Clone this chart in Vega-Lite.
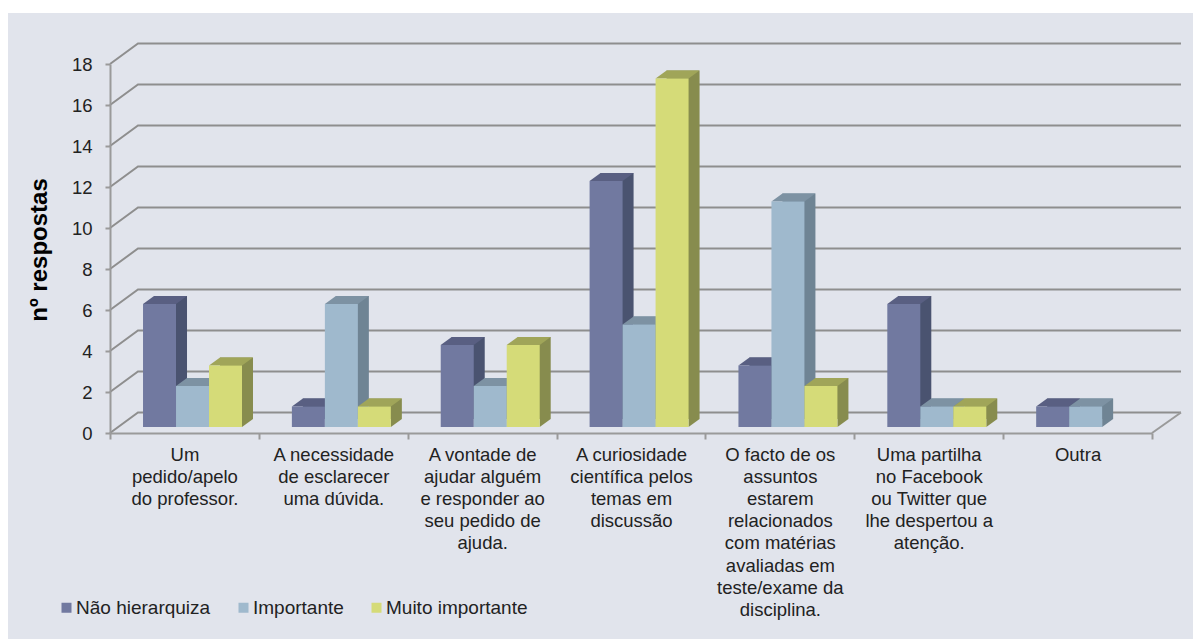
{"$schema":"https://vega.github.io/schema/vega-lite/v6.json","width":1042,"height":369,"autosize":{"type":"none"},"padding":{"left":110,"top":64,"right":41,"bottom":206},"background":"white","config":{"view":{"stroke":null},"font":"Liberation Sans"},"datasets":{"barras":[{"categoria":"Um\npedido/apelo\ndo professor.","serie":"Não hierarquiza","respostas":6},{"categoria":"Um\npedido/apelo\ndo professor.","serie":"Importante","respostas":2},{"categoria":"Um\npedido/apelo\ndo professor.","serie":"Muito importante","respostas":3},{"categoria":"A necessidade\nde esclarecer\numa dúvida.","serie":"Não hierarquiza","respostas":1},{"categoria":"A necessidade\nde esclarecer\numa dúvida.","serie":"Importante","respostas":6},{"categoria":"A necessidade\nde esclarecer\numa dúvida.","serie":"Muito importante","respostas":1},{"categoria":"A vontade de\najudar alguém\ne responder ao\nseu pedido de\najuda.","serie":"Não hierarquiza","respostas":4},{"categoria":"A vontade de\najudar alguém\ne responder ao\nseu pedido de\najuda.","serie":"Importante","respostas":2},{"categoria":"A vontade de\najudar alguém\ne responder ao\nseu pedido de\najuda.","serie":"Muito importante","respostas":4},{"categoria":"A curiosidade\ncientífica pelos\ntemas em\ndiscussão","serie":"Não hierarquiza","respostas":12},{"categoria":"A curiosidade\ncientífica pelos\ntemas em\ndiscussão","serie":"Importante","respostas":5},{"categoria":"A curiosidade\ncientífica pelos\ntemas em\ndiscussão","serie":"Muito importante","respostas":17},{"categoria":"O facto de os\nassuntos\nestarem\nrelacionados\ncom matérias\navaliadas em\nteste/exame da\ndisciplina.","serie":"Não hierarquiza","respostas":3},{"categoria":"O facto de os\nassuntos\nestarem\nrelacionados\ncom matérias\navaliadas em\nteste/exame da\ndisciplina.","serie":"Importante","respostas":11},{"categoria":"O facto de os\nassuntos\nestarem\nrelacionados\ncom matérias\navaliadas em\nteste/exame da\ndisciplina.","serie":"Muito importante","respostas":2},{"categoria":"Uma partilha\nno Facebook\nou Twitter que\nlhe despertou a\natenção.","serie":"Não hierarquiza","respostas":6},{"categoria":"Uma partilha\nno Facebook\nou Twitter que\nlhe despertou a\natenção.","serie":"Importante","respostas":1},{"categoria":"Uma partilha\nno Facebook\nou Twitter que\nlhe despertou a\natenção.","serie":"Muito importante","respostas":1},{"categoria":"Outra","serie":"Não hierarquiza","respostas":1},{"categoria":"Outra","serie":"Importante","respostas":1}],"grelha":[{"tick":0},{"tick":2},{"tick":4},{"tick":6},{"tick":8},{"tick":10},{"tick":12},{"tick":14},{"tick":16},{"tick":18}]},"encoding":{"x":{"field":"categoria","type":"nominal","scale":{"domain":["Um\npedido/apelo\ndo professor.","A necessidade\nde esclarecer\numa dúvida.","A vontade de\najudar alguém\ne responder ao\nseu pedido de\najuda.","A curiosidade\ncientífica pelos\ntemas em\ndiscussão","O facto de os\nassuntos\nestarem\nrelacionados\ncom matérias\navaliadas em\nteste/exame da\ndisciplina.","Uma partilha\nno Facebook\nou Twitter que\nlhe despertou a\natenção.","Outra"],"paddingInner":0,"paddingOuter":0}},"y":{"field":"respostas","type":"quantitative","scale":{"domain":[0,18],"nice":false}}},"layer":[{"data":{"values":[{"base":0}]},"mark":{"type":"point","shape":"M-176.43 -420L1008.57 -420L1008.57 206L-176.43 206Z","size":4,"filled":true,"color":"#E1E4EC","opacity":1,"strokeWidth":0},"encoding":{"x":{"datum":"Um\npedido/apelo\ndo professor.","type":"nominal","title":null,"axis":{"zindex":1,"orient":"bottom","domainColor":"#9A9A9A","domainWidth":2,"tickColor":"#9A9A9A","tickWidth":2,"tickSize":6,"tickBand":"extent","labelAngle":0,"labelAlign":"center","labelBaseline":"top","labelExpr":"split(datum.label,'\\n')","labelFontSize":18.5,"labelLineHeight":22.2,"labelColor":"#222222","labelPadding":6,"labelOverlap":false,"labelLimit":0,"labelBound":false,"labelFlush":false}},"y":{"field":"base","type":"quantitative","title":"nº respostas","axis":{"zindex":1,"values":[0,2,4,6,8,10,12,14,16,18],"grid":false,"domainColor":"#9A9A9A","domainWidth":2,"tickColor":"#9A9A9A","tickWidth":2,"tickSize":5,"labelFontSize":18.5,"labelColor":"#222222","labelPadding":13,"titleFont":"Liberation Sans","titleFontWeight":"bold","titleFontSize":24,"titleColor":"#000000","titleX":-59,"titleY":185.5,"titleAngle":-90,"titleAlign":"center","titleBaseline":"bottom"}}}},{"data":{"name":"grelha"},"mark":{"type":"point","shape":"M-74.43 0L-46.43 -20.5H996.57","size":4,"filled":false,"stroke":"#8E8E8E","opacity":1,"strokeWidth":2},"encoding":{"x":{"datum":"Um\npedido/apelo\ndo professor.","type":"nominal"},"y":{"field":"tick","type":"quantitative"}}},{"data":{"values":[{"tick":0}]},"mark":{"type":"point","shape":"M967.57 0L996.57 -20.5","size":4,"filled":false,"stroke":"#9A9A9A","opacity":1,"strokeWidth":2},"encoding":{"x":{"datum":"Um\npedido/apelo\ndo professor.","type":"nominal"},"y":{"field":"tick","type":"quantitative"}}},{"data":{"name":"barras"},"resolve":{"scale":{"color":"independent","xOffset":"independent"}},"layer":[{"mark":{"type":"bar","yOffset":-14,"y2Offset":-14},"encoding":{"xOffset":{"field":"serie","type":"nominal","scale":{"domain":["Não hierarquiza","Importante","Muito importante"],"paddingInner":0,"paddingOuter":0.756,"align":0.8825}},"color":{"field":"serie","type":"nominal","legend":null,"scale":{"domain":["Não hierarquiza","Importante","Muito importante"],"range":["#4A5370","#6F8494","#878C4E"]}}}},{"mark":{"type":"point","shape":"M16.5 0L27.5 -8H16.5Z","size":4,"filled":true,"opacity":1,"strokeWidth":0,"yOffset":-6},"encoding":{"xOffset":{"field":"serie","type":"nominal","scale":{"domain":["Não hierarquiza","Importante","Muito importante"],"type":"point","padding":0,"range":[49.5,115.5]}},"y":{"datum":0,"type":"quantitative"},"color":{"field":"serie","type":"nominal","legend":null,"scale":{"domain":["Não hierarquiza","Importante","Muito importante"],"range":["#4A5370","#6F8494","#878C4E"]}}}},{"mark":{"type":"point","shape":"M-16.5 0H16.5L27.5 -8H-5.5Z","size":4,"filled":true,"opacity":1,"strokeWidth":0,"yOffset":-6},"encoding":{"xOffset":{"field":"serie","type":"nominal","scale":{"domain":["Não hierarquiza","Importante","Muito importante"],"type":"point","padding":0,"range":[49.5,115.5]}},"color":{"field":"serie","type":"nominal","legend":null,"scale":{"domain":["Não hierarquiza","Importante","Muito importante"],"range":["#595F82","#7D92A3","#A0A559"]}}}},{"mark":{"type":"bar","yOffset":-6,"y2Offset":-6},"encoding":{"xOffset":{"field":"serie","type":"nominal","scale":{"domain":["Não hierarquiza","Importante","Muito importante"],"paddingInner":0,"paddingOuter":0.756,"align":0.662}},"color":{"field":"serie","type":"nominal","scale":{"domain":["Não hierarquiza","Importante","Muito importante"],"range":["#7179A0","#9FB9CD","#D5DB78"]},"legend":{"title":null,"orient":"none","legendX":-53,"legendY":534,"direction":"horizontal","columns":3,"symbolType":"square","symbolSize":100,"symbolStrokeWidth":0,"symbolOpacity":1,"labelFontSize":19,"labelColor":"#222222","labelOffset":0,"columnPadding":23,"labelLimit":0}}}}]}]}
